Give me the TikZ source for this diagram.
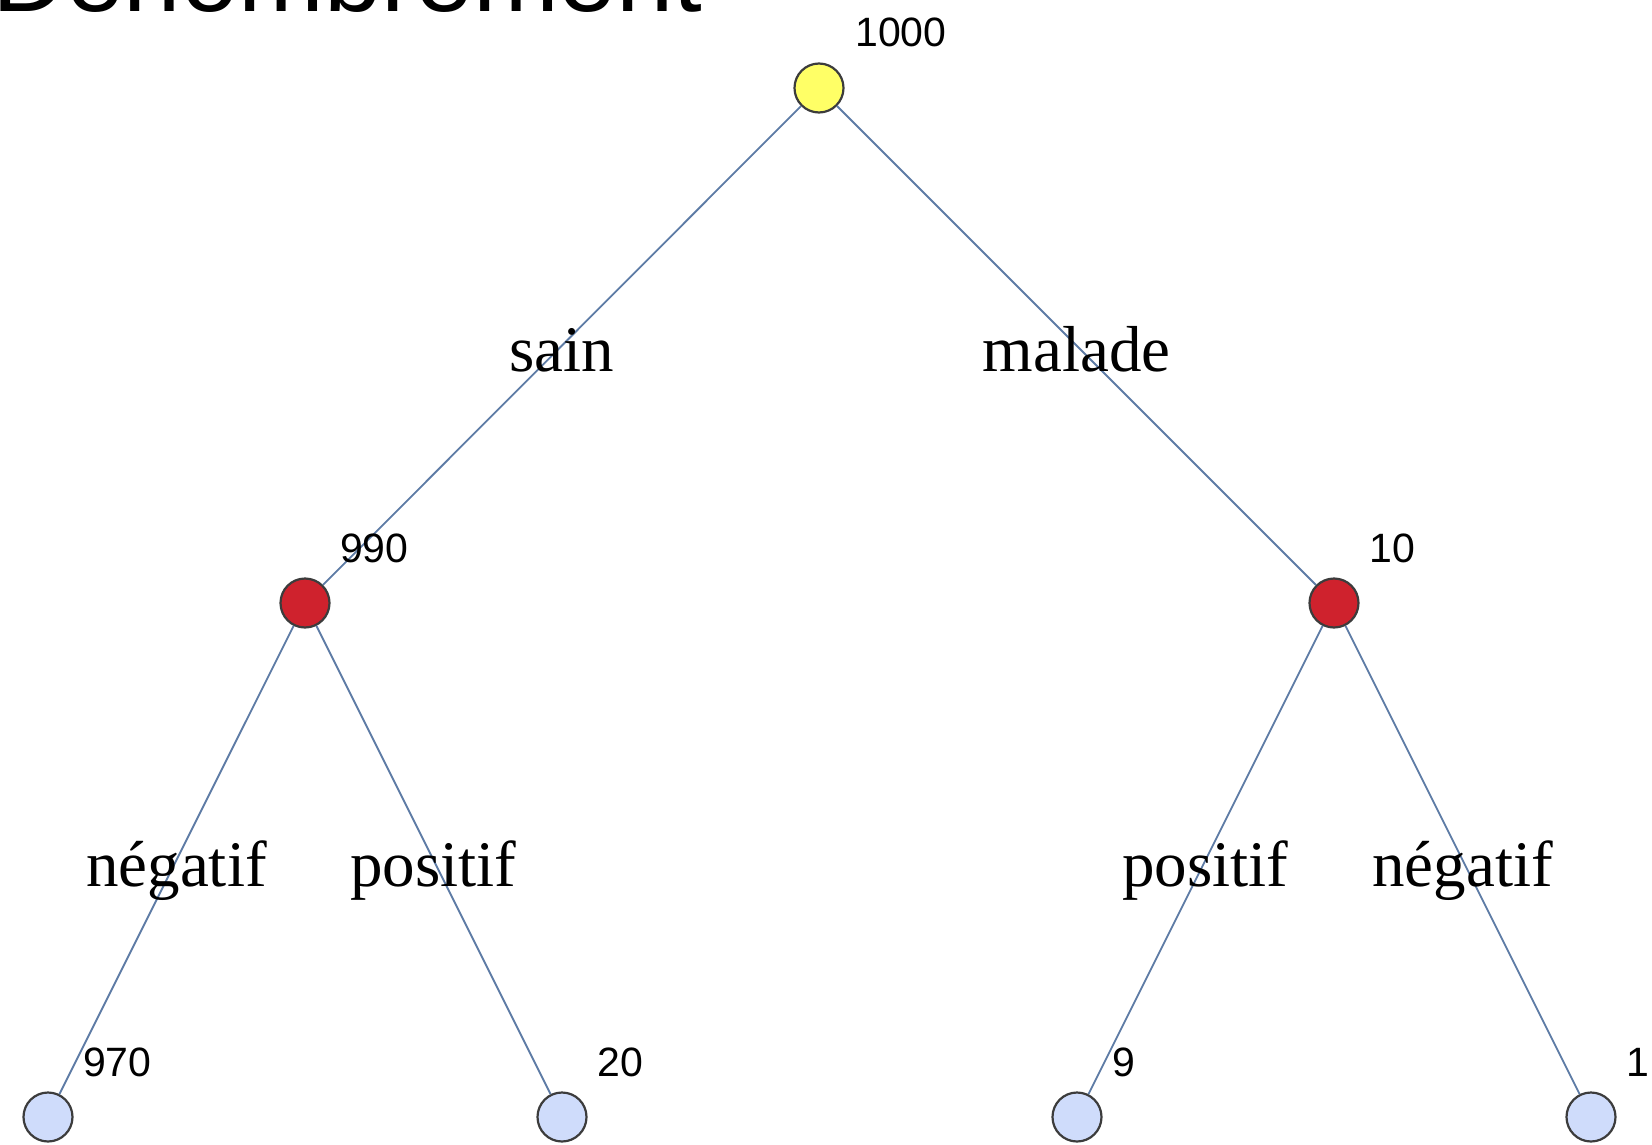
\documentclass[tikz,border=0pt]{standalone}
\usepackage{fontspec}
\setmainfont{Liberation Serif}
\newfontfamily\arialfont{Liberation Sans}
\definecolor{edgeblue}{HTML}{5D7BA5}
\definecolor{rootyellow}{HTML}{FFFF66}
\definecolor{midred}{HTML}{CF222D}
\definecolor{leafblue}{HTML}{CFDCFB}
\definecolor{rimgrey}{HTML}{3C3C3C}
\begin{document}
\begin{tikzpicture}[x=1pt,y=-1pt,
  treenode/.style={circle, draw=rimgrey, line width=2.2pt, minimum size=49pt, inner sep=0pt},
  countlbl/.style={font=\arialfont\fontsize{41}{48}\selectfont, anchor=base west, inner sep=0pt},
  branch/.style={draw=edgeblue, line width=1.8pt},
  branchlbl/.style={font=\fontsize{65}{72}\selectfont, anchor=base, inner sep=0pt, yshift=-26pt, midway}
]
\useasboundingbox (0,0) rectangle (1652,1145);
\clip (0,0) rectangle (1652,1145);

% title, partly above the page edge
\node[font=\arialfont\fontsize{103}{110}\selectfont, anchor=base west, inner sep=0pt] (title) at (-8,12) {Dénombrement};

% tree nodes
\node[treenode, fill=rootyellow] (root) at (819,88) {};
\node[treenode, fill=midred] (sain) at (305,603) {};
\node[treenode, fill=midred] (malade) at (1334,603) {};
\node[treenode, fill=leafblue] (sn) at (48,1117) {};
\node[treenode, fill=leafblue] (sp) at (562,1117) {};
\node[treenode, fill=leafblue] (mp) at (1077,1117) {};
\node[treenode, fill=leafblue] (mn) at (1591,1117) {};

% branches with their labels
\path[branch] (root) -- node[branchlbl] (lsain) {sain} (sain);
\path[branch] (root) -- node[branchlbl] (lmalade) {malade} (malade);
\path[branch] (sain) -- node[branchlbl] (lsn) {négatif} (sn);
\path[branch] (sain) -- node[branchlbl] (lsp) {positif} (sp);
\path[branch] (malade) -- node[branchlbl] (lmp) {positif} (mp);
\path[branch] (malade) -- node[branchlbl] (lmn) {négatif} (mn);

% counts
\node[countlbl] (c1000) at ([xshift=36pt,yshift=41pt]root.center) {1000};
\node[countlbl] (c990) at ([xshift=35pt,yshift=41pt]sain.center) {990};
\node[countlbl] (c10) at ([xshift=35pt,yshift=41pt]malade.center) {10};
\node[countlbl] (c970) at ([xshift=35pt,yshift=41pt]sn.center) {970};
\node[countlbl] (c20) at ([xshift=35pt,yshift=41pt]sp.center) {20};
\node[countlbl] (c9) at ([xshift=35pt,yshift=41pt]mp.center) {9};
\node[countlbl] (c1) at ([xshift=35pt,yshift=41pt]mn.center) {1};
\end{tikzpicture}
\end{document}
